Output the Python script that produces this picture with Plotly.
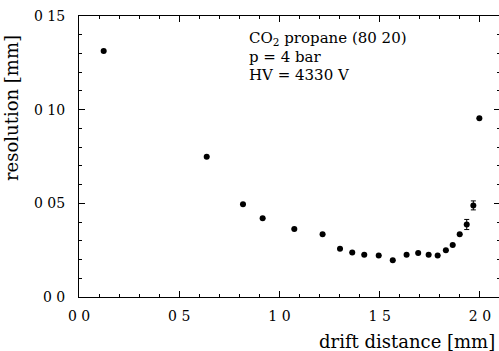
import plotly.graph_objects as go

drift_mm = [0.123, 0.637, 0.818, 0.916, 1.074, 1.215, 1.302, 1.363, 1.423, 1.495,
            1.565, 1.634, 1.692, 1.744, 1.789, 1.830, 1.864, 1.899, 1.934, 1.967, 1.997]
resolution_mm = [0.1313, 0.0749, 0.0495, 0.0420, 0.0363, 0.0335, 0.0258, 0.0237, 0.0226, 0.0221,
                 0.0196, 0.0226, 0.0235, 0.0226, 0.0222, 0.0249, 0.0278, 0.0335, 0.0387, 0.0489, 0.0954]
resolution_err = [0.0, 0.0, 0.0, 0.0, 0.0, 0.0, 0.0, 0.0, 0.0, 0.0,
                  0.0, 0.0, 0.0, 0.0, 0.0, 0.0, 0.0, 0.0, 0.0027, 0.0024, 0.0]

x_tickvals = [0.0, 0.5, 1.0, 1.5, 2.0]
x_ticktext = ["0 0", "0 5", "1 0", "1 5", "2 0"]
y_tickvals = [0.0, 0.05, 0.10, 0.15]
y_ticktext = ["0 0", "0 05", "0 10", "0 15"]

info_lines = ["CO<sub>2</sub> propane (80 20)", "p = 4 bar", "HV = 4330 V"]

FONT = "DejaVu Serif"

fig = go.Figure()
fig.add_trace(go.Scatter(
    x=drift_mm, y=resolution_mm, mode="markers",
    marker=dict(color="black", size=6),
    error_y=dict(type="data", array=resolution_err, color="black", thickness=1, width=2.5),
    showlegend=False,
))

axis_common = dict(
    showline=True, linecolor="black", linewidth=1, mirror="ticks",
    ticks="inside", ticklen=6, tickcolor="black", tickwidth=1,
    showgrid=False, zeroline=False,
    tickfont=dict(family=FONT, size=14, color="black"),
)

fig.update_xaxes(range=[0, 2.1], tickmode="array", tickvals=x_tickvals, ticktext=x_ticktext,
                 minor=dict(tickmode="linear", tick0=0, dtick=0.1, ticks="inside", ticklen=3,
                            tickcolor="black"),
                 ticklabelstandoff=6, **axis_common)
fig.update_yaxes(range=[0, 0.15], tickmode="array", tickvals=y_tickvals, ticktext=y_ticktext,
                 minor=dict(tickmode="linear", tick0=0, dtick=0.01, ticks="inside", ticklen=3,
                            tickcolor="black"),
                 ticklabelstandoff=10, **axis_common)

annots = []
for i, line in enumerate(info_lines):
    annots.append(dict(text=line, xref="paper", yref="paper",
                       x=(247 - 79) / 421, y=(297 - (39 + 18 * i)) / 281,
                       xanchor="left", yanchor="middle", showarrow=False,
                       font=dict(family=FONT, size=15, color="black")))
annots.append(dict(text="drift distance [mm]", xref="paper", yref="paper",
                   x=(497 - 79) / 421, y=(297 - 341) / 281, xanchor="right", yanchor="middle",
                   showarrow=False, font=dict(family=FONT, size=18, color="black")))
annots.append(dict(text="resolution [mm]", xref="paper", yref="paper",
                   x=(12 - 79) / 421, y=(297 - 108) / 281, xanchor="center", yanchor="middle",
                   textangle=-90, showarrow=False, font=dict(family=FONT, size=18, color="black")))

fig.update_layout(
    width=500, height=351,
    margin=dict(l=79, r=0, t=16, b=54),
    paper_bgcolor="white", plot_bgcolor="white",
    annotations=annots,
)

fig.write_html("out.html")
